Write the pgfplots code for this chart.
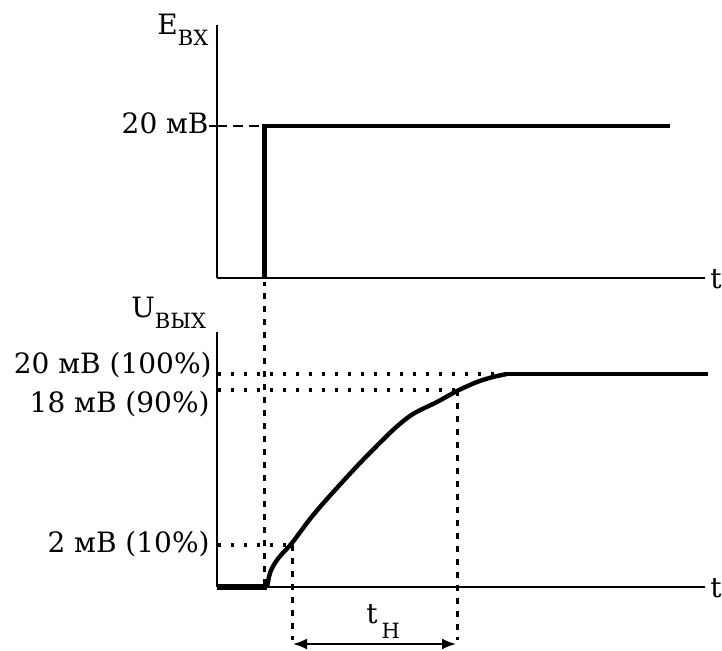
\documentclass[border=0pt]{standalone}
\usepackage{fontspec}
\setmainfont{DejaVu Serif}
\usepackage{pgfplots}
\pgfplotsset{compat=1.18}
\usetikzlibrary{arrows.meta}
\newcommand{\sub}[2][-5.5pt]{\raisebox{#1}{\fontsize{10.5}{11}\selectfont #2}}
\begin{document}
\begin{tikzpicture}[font=\fontsize{14}{16}\selectfont]
\path[use as bounding box] (0pt,0pt) rectangle (361pt,-325.5pt);
\pgfplotsset{myax/.style={scale only axis, width=244pt, xmin=217, xmax=705,
  axis lines=left, axis line style={-, line width=1.2pt, black}, xtick=\empty,
  clip=false, anchor=south west},
  hdot/.style={line width=1.6pt, dash pattern=on 1.5pt off 5pt},
  vdot/.style={line width=1.5pt, dash pattern=on 3pt off 3.5pt}}
% top axis
\begin{axis}[myax, at={(108.5pt,-139pt)}, height=126.5pt, ymin=0, ymax=253,
  ytick={152}, yticklabels={}, major tick length=4pt, tick align=outside,
  tick style={line width=1.2pt, black}]
\addplot[line width=1.2pt, dash pattern=on 5pt off 3pt] coordinates {(217,152)(262,152)};
\addplot[line width=2.4pt] coordinates {(264.5,0)(264.5,152)(670,152)};
\node[anchor=east, inner sep=0] at (axis cs:209,155) {20 мВ};
\node[anchor=base west, inner sep=0] at (axis cs:157,243) {E\sub{ВХ}};
\node[anchor=west, inner sep=0] at (axis cs:710,-1) {t};
\end{axis}
% bottom axis
\begin{axis}[myax, at={(108.5pt,-293.5pt)}, height=127.5pt, ymin=0, ymax=255,
  ytick=\empty]
\addplot[hdot] coordinates {(218,213)(505,213)};
\addplot[hdot] coordinates {(218,197)(455,197)};
\addplot[hdot] coordinates {(218,42)(290,42)};
\addplot[vdot] coordinates {(264,2)(264,305)};
\addplot[vdot] coordinates {(292,42)(292,-53)};
\addplot[vdot] coordinates {(457,197)(457,-53)};
\addplot[line width=3pt] coordinates {(217,0)(267,0)};
\addplot[line width=2.2pt, smooth, tension=0.5] coordinates {
 (267,0)(270,14)(275,24)(281,32)(292,44)(310,68)(327,88)(360,124)(393,157)
 (413,173)(437,185)(457,196)(477,205)(493,210)(507,213)};
\addplot[line width=2.2pt] coordinates {(507,213)(708,213)};
\addplot[line width=1pt, {Latex[length=7pt,width=5.5pt]}-{Latex[length=7pt,width=5.5pt]}]
  coordinates {(293,-57)(456,-57)};
\node[anchor=east, inner sep=0] at (axis cs:212,222) {20 мВ (100\%)};
\node[anchor=east, inner sep=0] at (axis cs:210,183) {18 мВ (90\%)};
\node[anchor=east, inner sep=0] at (axis cs:210,43) {2 мВ (10\%)};
\node[anchor=base west, inner sep=0] at (axis cs:131,269) {U\sub{ВЫХ}};
\node[anchor=base west, inner sep=0] at (axis cs:366,-36) {t\hspace{2pt}\sub[-7.5pt]{Н}};
\node[anchor=west, inner sep=0] at (axis cs:710,-1) {t};
\end{axis}
\end{tikzpicture}
\end{document}
